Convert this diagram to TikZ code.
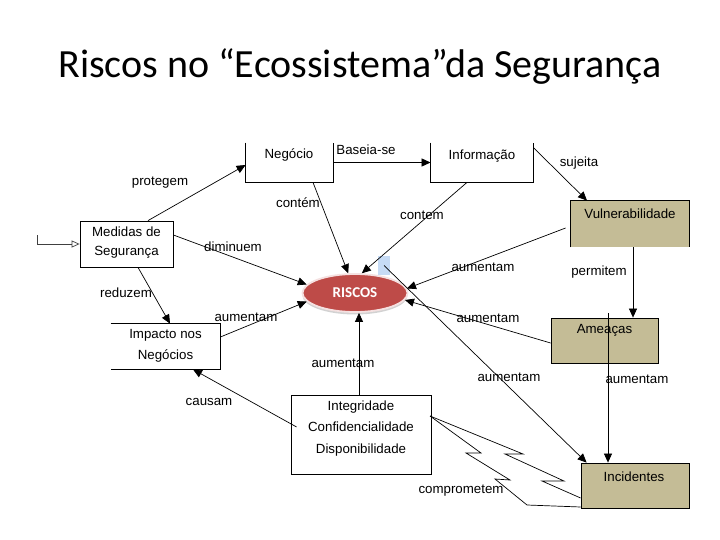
\documentclass[tikz,border=0pt]{standalone}
\usepackage{fontspec}
\setmainfont{Liberation Sans}
\newfontfamily\titlefont{Carlito}
\usetikzlibrary{arrows.meta,shapes.geometric,shadows}
\definecolor{tanbox}{RGB}{196,188,150}
\definecolor{riscored}{RGB}{190,75,72}
\definecolor{riscorim}{RGB}{245,225,225}
\definecolor{bsqblue}{RGB}{198,219,245}
\begin{document}
\begin{tikzpicture}[x=1pt,y=-1pt,
  box/.style={rectangle, inner sep=0pt, line width=0.8pt},
  tanb/.style={box, draw, fill=tanbox},
  lbl/.style={font=\fontsize{13.3}{15}\selectfont, inner sep=0pt},
  txt/.style={font=\fontsize{13.3}{15}\selectfont, inner sep=0pt, align=center},
  arr/.style={-{Triangle[length=9pt,width=8pt]}, line width=0.7pt},
  ln/.style={line width=0.7pt}]
\fill[white] (0,0) rectangle (720,540);
\useasboundingbox (0,0) rectangle (720,540);

% title
\node[font=\titlefont\fontsize{40}{48}\selectfont, inner sep=0pt] (title) at (360,67) {Riscos no “Ecossistema”da Segurança};

% boxes
\node[box, minimum width=87pt, minimum height=39pt] (neg) at (289.5,162.5) {};
\node[box, minimum width=102pt, minimum height=39pt] (inf) at (482,162.5) {};
\node[box, fill=tanbox, minimum width=118pt, minimum height=46pt] (vul) at (630,224) {};
\node[box, draw, minimum width=93pt, minimum height=46pt] (med) at (126.5,244) {};
\node[box, minimum width=109pt, minimum height=45pt] (imp) at (165.5,346.5) {};
\node[tanb, minimum width=107pt, minimum height=45pt] (ame) at (604.5,340.5) {};
\node[box, draw, minimum width=140pt, minimum height=79pt] (cid) at (361,434.5) {};
\node[tanb, minimum width=108pt, minimum height=45pt] (inc) at (635,485.5) {};

\draw[line width=0.8pt] (neg.north west) -- (neg.south west) -- (neg.south east) -- (neg.north east);
\draw[line width=0.8pt] (inf.north west) -- (inf.south west) -- (inf.south east) -- (inf.north east);
\draw[line width=0.8pt] (imp.north west) -- (imp.north east) -- (imp.south east) -- (imp.south west);
\draw[line width=0.8pt] (vul.south west) -- (vul.north west) -- (vul.north east) -- (vul.south east);

% box texts
\node[txt] (tneg) at (289,155) {Negócio};
\node[txt] (tinf) at (482,156) {Informação};
\node[txt] (tvul) at (630,214) {Vulnerabilidade};
\node[txt, font=\fontsize{13.3}{19}\selectfont] (tmed) at (126.5,243) {Medidas de\\Segurança};
\node[txt, font=\fontsize{13.3}{21}\selectfont] (timp) at (165.5,346) {Impacto nos\\Negócios};
\node[txt] (tame) at (604.5,330) {Ameaças};
\node[txt, font=\fontsize{13.3}{21.5}\selectfont] (tcid) at (361,428.5) {Integridade\\Confidencialidade\\Disponibilidade};
\node[txt] (tinc) at (634,477) {Incidentes};

% blue square
\node[fill=bsqblue, minimum width=12pt, minimum height=19pt, inner sep=0pt] (bsq) at (384,265.5) {};

% RISCOS
\node[ellipse, fill=riscored, draw=riscorim, line width=1.8pt, minimum width=105pt, minimum height=38pt,
      inner sep=0pt, font=\titlefont\bfseries\fontsize{15}{16}\selectfont, text=white,
      drop shadow={shadow xshift=0pt, shadow yshift=-2.5pt, opacity=0.35}] (riscos) at (355,293) {RISCOS};

% incoming arrow at left
\coordinate (in0) at (37,235);
\draw[line width=0.7pt, -{Triangle[open,length=8pt,width=7pt]}, draw=black!75] (in0) |- (med.west);

% connectors
\draw[arr] ([xshift=21.5pt]med.north) -- ([yshift=-2.5pt]neg.west);
\draw[arr] ([yshift=9pt]med.east) -- (riscos.170);
\draw[arr] ([xshift=11.5pt]med.south) -- ([xshift=4.5pt]imp.north);
\draw[arr] ([yshift=9.5pt]imp.east) -- (riscos.190);
\draw[arr] ([xshift=23.5pt]neg.south) -- (riscos.109);
\draw[arr] (neg.east) -- (inf.west);
\draw[arr] ([xshift=-15pt]inf.south) -- (riscos.71);
\draw[arr] ([yshift=-5pt]inf.north east) -- ([xshift=-43pt]vul.north);
\draw[arr] ([xshift=-5pt,yshift=-4pt]vul.west) -- (riscos.5);
\draw[arr] ([xshift=3pt]vul.south) -- ([xshift=3pt]vul.south |- ame.north);
\draw[arr] ([yshift=-2.5pt]ame.west) -- (riscos.-8);
\draw[arr] (bsq.center) -- ([xshift=6pt]inc.north west);
\coordinate (vtop) at (608,313);
\draw[arr] (vtop) -- (vtop |- inc.north);
\draw[arr] ([xshift=-2pt]cid.north) -- ([xshift=-2pt]cid.north |- riscos.south);
\draw[arr] ([xshift=6pt,yshift=7.5pt]cid.west) -- ([xshift=27.5pt]imp.south);

% lightning (comprometem)
\draw[ln] (430,416) -- (523,454) -- (505,454) -- (564,481) -- (542,481) -- (inc.west |- 0,498);
\draw[ln] (430,416) -- (481,453) -- (466,453) -- (510,480) -- (495,479) -- (527,505) -- (inc.west |- 0,507);

% labels
\node[lbl] (lbas) at (366,150) {Baseia-se};
\node[lbl] (lpro) at (160,183) {protegem};
\node[lbl] (lcon1) at (298,203) {contém};
\node[lbl] (ldim) at (233,247) {diminuem};
\node[lbl] (lcon2) at (422,215) {contem};
\node[lbl] (lsuj) at (579,163) {sujeita};
\node[lbl] (lau1) at (483,267) {aumentam};
\node[lbl] (lper) at (599,272) {permitem};
\node[lbl] (lred) at (126,293) {reduzem};
\node[lbl] (lau2) at (246,317) {aumentam};
\node[lbl] (lau3) at (343,363) {aumentam};
\node[lbl] (lcau) at (209,402) {causam};
\node[lbl] (lau4) at (488,318) {aumentam};
\node[lbl] (lau5) at (509,377) {aumentam};
\node[lbl] (lau6) at (637,379) {aumentam};
\node[lbl] (lcom) at (461,491) {comprometem};
\end{tikzpicture}
\end{document}
